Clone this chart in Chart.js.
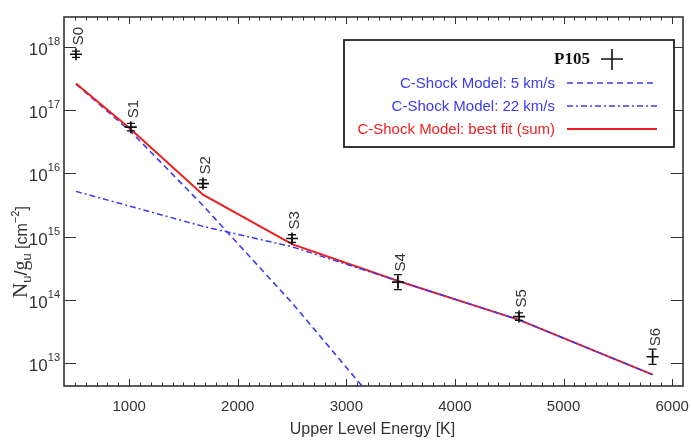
<!DOCTYPE html>
<html>
<head>
<meta charset="utf-8">
<script src="https://cdn.jsdelivr.net/npm/chart.js@4.4.1/dist/chart.umd.min.js"></script>
<style>
  body { margin: 0; background: #fff; }
  canvas { display: block; }
</style>
</head>
<body>
<canvas id="h2Chart" width="691" height="440"></canvas>
<script>
// H2 rotation diagram, P105
var levelNames = ['S0', 'S1', 'S2', 'S3', 'S4', 'S5', 'S6'];
var levelEnergy = [510, 1015, 1680, 2500, 3475, 4590, 5820];
var observed = [7.7e17, 5.4e16, 6.9e15, 9.3e14, 1.9e14, 5.4e13, 1.25e13];
var observedErrDex = [0.05, 0.06, 0.06, 0.06, 0.12, 0.06, 0.12];

var modelEnergy = [510, 1015, 1680, 2500, 3470, 4590, 5820];
var shock5 = [2.6e17, 4.6e16, 3.1e15, 8.9e13, 9.3e11, null, null];
var shock22 = [5.2e15, 3.0e15, 1.45e15, 6.9e14, 2.0e14, 4.8e13, 6.5e12];
var bestFit = [2.65e17, 5.0e16, 4.6e15, 7.6e14, 2.0e14, 4.8e13, 6.5e12];

var xTickValues = [1000, 2000, 3000, 4000, 5000, 6000];
var yTickExps = [13, 14, 15, 16, 17, 18];

var BLUE = '#3b3bef';
var RED = '#f01e1e';
var INK = '#333';

function toPoints(xs, ys) {
    var pts = [];
    for (var i = 0; i < xs.length; i++) {
        if (ys[i] !== null) pts.push({x: xs[i], y: ys[i]});
    }
    return pts;
}

// frame, inward ticks, tick labels, titles
var framePlugin = {
    id: 'frame',
    afterDraw: function(chart) {
        var ctx = chart.ctx;
        var a = chart.chartArea;
        var xs = chart.scales.x, ys = chart.scales.y;
        ctx.save();
        ctx.strokeStyle = INK;
        ctx.lineWidth = 1.6;
        ctx.strokeRect(a.left, a.top, a.right - a.left, a.bottom - a.top);

        ctx.lineWidth = 1;
        ctx.beginPath();
        for (var v = 500; v <= 6000; v += 100) {
            var px = Math.round(xs.getPixelForValue(v)) + 0.5;
            var len = (v % 1000 === 0) ? 7 : 3.5;
            ctx.moveTo(px, a.bottom); ctx.lineTo(px, a.bottom - len);
            ctx.moveTo(px, a.top); ctx.lineTo(px, a.top + len);
        }
        yTickExps.forEach(function(e) {
            var py = Math.round(ys.getPixelForValue(Math.pow(10, e))) + 0.5;
            ctx.moveTo(a.left, py); ctx.lineTo(a.left + 12, py);
            ctx.moveTo(a.right, py); ctx.lineTo(a.right - 12, py);
        });
        ctx.stroke();

        ctx.fillStyle = INK;
        ctx.font = '15px "Liberation Sans", Arial, sans-serif';
        ctx.textAlign = 'center';
        ctx.textBaseline = 'middle';
        xTickValues.forEach(function(v) {
            ctx.fillText(String(v), xs.getPixelForValue(v), a.bottom + 21);
        });

        yTickExps.forEach(function(e) {
            var py = ys.getPixelForValue(Math.pow(10, e));
            ctx.font = '11px "Liberation Sans", Arial, sans-serif';
            ctx.textAlign = 'left';
            ctx.textBaseline = 'alphabetic';
            var ew = ctx.measureText(String(e)).width;
            var right = a.left - 4;
            ctx.fillText(String(e), right - ew, py - 2);
            ctx.font = '17px "Liberation Sans", Arial, sans-serif';
            ctx.textAlign = 'right';
            ctx.fillText('10', right - ew, py + 8);
        });

        // x title
        ctx.font = '16px "Liberation Sans", Arial, sans-serif';
        ctx.textAlign = 'center';
        ctx.textBaseline = 'alphabetic';
        ctx.fillText('Upper Level Energy [K]', (a.left + a.right) / 2 - 1, 434);

        // y title, rotated, built piece by piece
        ctx.translate(20, 298);
        ctx.rotate(-Math.PI / 2);
        ctx.textAlign = 'left';
        var x = 0;
        var pieces = [
            ['N', '21px "Liberation Serif", serif', 0],
            ['u', '13px "Liberation Sans", sans-serif', 4],
            ['/', '18px "Liberation Sans", sans-serif', 0],
            ['g', '20px "Liberation Serif", serif', 0],
            ['u', '13px "Liberation Sans", sans-serif', 4],
            [' [cm', '16px "Liberation Sans", sans-serif', 0],
            ['\u22122', '11px "Liberation Sans", sans-serif', -8],
            [']', '16px "Liberation Sans", sans-serif', 0]
        ];
        pieces.forEach(function(p) {
            ctx.font = p[1];
            ctx.fillText(p[0], x, 7 + p[2]);
            x += ctx.measureText(p[0]).width;
        });
        ctx.restore();
    }
};

// error bars and level labels for the observed points
var levelPlugin = {
    id: 'levels',
    afterDatasetsDraw: function(chart) {
        var ctx = chart.ctx;
        var xs = chart.scales.x, ys = chart.scales.y;
        ctx.save();
        ctx.strokeStyle = '#111';
        ctx.lineWidth = 1.3;
        for (var i = 0; i < levelNames.length; i++) {
            var px = xs.getPixelForValue(levelEnergy[i]);
            var hi = ys.getPixelForValue(observed[i] * Math.pow(10, observedErrDex[i]));
            var lo = ys.getPixelForValue(observed[i] / Math.pow(10, observedErrDex[i]));
            ctx.beginPath();
            ctx.moveTo(px, hi); ctx.lineTo(px, lo);
            ctx.moveTo(px - 4, hi); ctx.lineTo(px + 4, hi);
            ctx.moveTo(px - 4, lo); ctx.lineTo(px + 4, lo);
            ctx.stroke();

            var py = ys.getPixelForValue(observed[i]);
            ctx.save();
            ctx.translate(px + 7, Math.min(hi, py - 6) - 3);
            ctx.rotate(-Math.PI / 2);
            ctx.fillStyle = '#333';
            ctx.font = '15px "Liberation Sans", Arial, sans-serif';
            ctx.textAlign = 'left';
            ctx.textBaseline = 'alphabetic';
            ctx.fillText(levelNames[i], 0, 0);
            ctx.restore();
        }
        ctx.restore();
    }
};

// boxed legend, text right aligned with samples on the right
var legendPlugin = {
    id: 'boxLegend',
    afterDraw: function(chart) {
        var ctx = chart.ctx;
        ctx.save();
        ctx.fillStyle = '#fff';
        ctx.fillRect(344, 40, 330, 107);
        ctx.strokeStyle = '#222';
        ctx.lineWidth = 1.8;
        ctx.strokeRect(344, 40, 330, 107);

        ctx.fillStyle = '#111';
        ctx.font = 'bold 17px "Liberation Serif", serif';
        ctx.textAlign = 'right';
        ctx.textBaseline = 'middle';
        ctx.fillText('P105', 590, 60);
        ctx.strokeStyle = '#111';
        ctx.lineWidth = 1.6;
        ctx.beginPath();
        ctx.moveTo(601, 59); ctx.lineTo(623, 59);
        ctx.moveTo(612, 49); ctx.lineTo(612, 70);
        ctx.stroke();

        var rows = [
            ['C-Shock Model: 5 km/s', BLUE, [6, 4], 84],
            ['C-Shock Model: 22 km/s', BLUE, [6, 3, 2, 3], 107],
            ['C-Shock Model: best fit (sum)', RED, [], 130]
        ];
        ctx.font = '15px "Liberation Sans", Arial, sans-serif';
        rows.forEach(function(r) {
            ctx.fillStyle = r[1];
            ctx.fillText(r[0], 555, r[3]);
            ctx.strokeStyle = r[1];
            ctx.lineWidth = r[2].length ? 1.6 : 2;
            ctx.setLineDash(r[2]);
            ctx.beginPath();
            ctx.moveTo(567, r[3] - 1); ctx.lineTo(657, r[3] - 1);
            ctx.stroke();
        });
        ctx.restore();
    }
};

var ctx = document.getElementById('h2Chart').getContext('2d');
new Chart(ctx, {
    type: 'scatter',
    data: {
        datasets: [{
            label: 'P105',
            data: toPoints(levelEnergy, observed),
            pointStyle: 'cross',
            pointRadius: 6,
            borderColor: '#111',
            borderWidth: 1.6,
            showLine: false
        }, {
            label: 'C-Shock Model: 22 km/s',
            data: toPoints(modelEnergy, shock22),
            showLine: true,
            borderColor: BLUE,
            borderWidth: 1.5,
            borderDash: [6, 3, 2, 3],
            pointRadius: 0
        }, {
            label: 'C-Shock Model: best fit (sum)',
            data: toPoints(modelEnergy, bestFit),
            showLine: true,
            borderColor: RED,
            borderWidth: 2,
            pointRadius: 0
        }, {
            label: 'C-Shock Model: 5 km/s',
            data: toPoints(modelEnergy, shock5),
            showLine: true,
            borderColor: BLUE,
            borderWidth: 1.6,
            borderDash: [6, 4],
            pointRadius: 0
        }]
    },
    options: {
        responsive: false,
        animation: false,
        layout: { padding: { left: 0, top: 17, right: 8, bottom: 0 } },
        plugins: {
            legend: { display: false },
            tooltip: { enabled: false }
        },
        scales: {
            x: {
                type: 'linear',
                min: 400,
                max: 6100,
                grid: { display: false },
                border: { display: false },
                ticks: { display: false },
                afterFit: function(s) { s.height = 54; }
            },
            y: {
                type: 'logarithmic',
                min: 4.3e12,
                max: 3e18,
                grid: { display: false },
                border: { display: false },
                ticks: { display: false },
                afterFit: function(s) { s.width = 64; }
            }
        }
    },
    plugins: [framePlugin, levelPlugin, legendPlugin]
});
</script>
</body>
</html>
